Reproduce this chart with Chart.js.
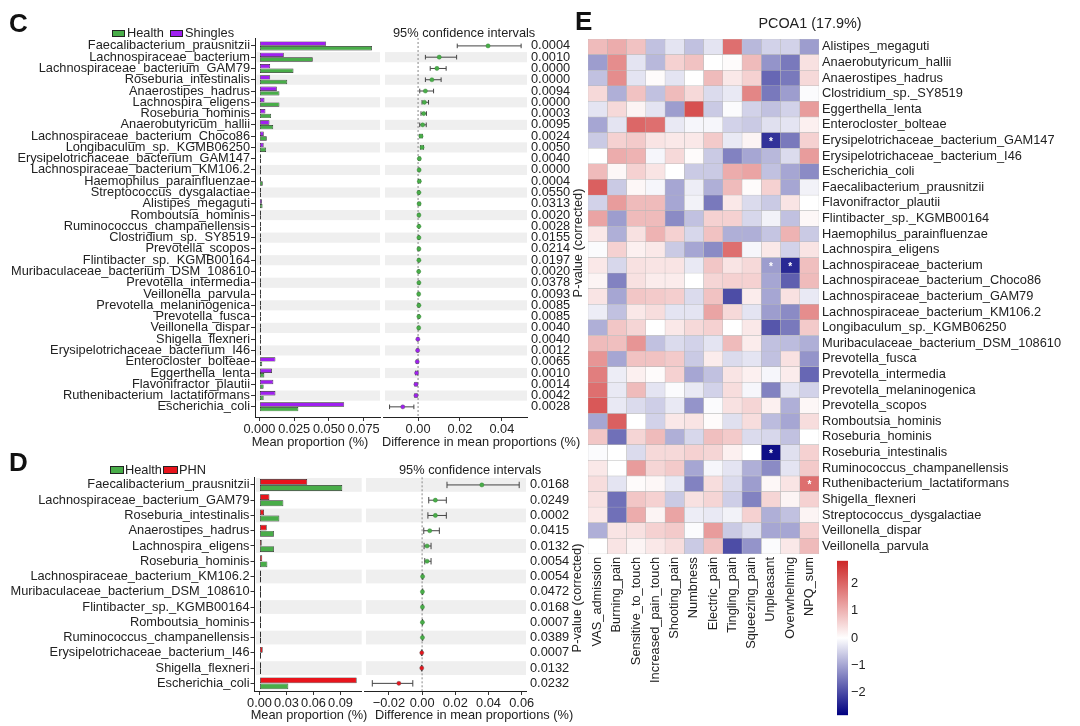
<!DOCTYPE html>
<html><head><meta charset="utf-8">
<script src="https://cdn.jsdelivr.net/npm/chart.js@4.4.0/dist/chart.umd.min.js"></script>
<style>
html,body{margin:0;padding:0;background:#fff;}
body{width:1080px;height:726px;position:relative;overflow:hidden;font-family:"Liberation Sans",Arial,sans-serif;color:#222;}
canvas{position:absolute;}
.t{position:absolute;white-space:nowrap;font-size:12.8px;line-height:12.8px;}
.c{transform:translate(-50%,-50%);}
.v{transform:translate(-50%,-50%) rotate(-90deg);}
.L{font-weight:bold;font-size:26px;line-height:26px;color:#111;}
.box{position:absolute;border:1px solid #222;box-sizing:border-box;}
</style></head><body>

<canvas id="cBar" width="382" height="460" style="left:0;top:0"></canvas>
<canvas id="cCI" width="199" height="460" style="left:381px;top:0"></canvas>
<canvas id="dBar" width="364" height="286" style="left:0;top:440px"></canvas>
<canvas id="dCI" width="218" height="286" style="left:362px;top:440px"></canvas>
<canvas id="heat" width="500" height="726" style="left:580px;top:0"></canvas>
<canvas id="cbar" width="60" height="176" style="left:830px;top:550px"></canvas>

<div class="t L" style="left:9px;top:10px">C</div>
<div class="box" style="left:112px;top:30px;width:13px;height:7px;background:#49ad49"></div>
<div class="t" style="left:127px;top:27px">Health</div>
<div class="box" style="left:170px;top:30px;width:13px;height:7px;background:#a020f0"></div>
<div class="t" style="left:185px;top:27px">Shingles</div>
<div class="t" style="left:393px;top:27px">95% confidence intervals</div>
<div class="t c" style="left:310px;top:442px">Mean proportion (%)</div>
<div class="t" style="left:382px;top:436px">Difference in mean proportions (%)</div>
<div class="t v" style="left:578px;top:243px">P-value (corrected)</div>

<div class="t L" style="left:9px;top:449px">D</div>
<div class="box" style="left:110px;top:466px;width:14px;height:8px;background:#49ad49"></div>
<div class="t" style="left:125px;top:464px">Health</div>
<div class="box" style="left:163px;top:466px;width:15px;height:8px;background:#e8141c"></div>
<div class="t" style="left:179px;top:464px">PHN</div>
<div class="t" style="left:399px;top:464px">95% confidence intervals</div>
<div class="t c" style="left:309px;top:715px">Mean proportion (%)</div>
<div class="t" style="left:375px;top:709px">Difference in mean proportions (%)</div>
<div class="t v" style="left:577px;top:598px">P-value (corrected)</div>

<div class="t L" style="left:575px;top:8px">E</div>
<div class="t c" style="left:810px;top:23px;font-size:14.4px;line-height:14.4px">PCOA1 (17.9%)</div>

<script>
// ---------- Panel C data ----------
const cSpecies = ["Faecalibacterium_prausnitzii","Lachnospiraceae_bacterium","Lachnospiraceae_bacterium_GAM79","Roseburia_intestinalis","Anaerostipes_hadrus","Lachnospira_eligens","Roseburia_hominis","Anaerobutyricum_hallii","Lachnospiraceae_bacterium_Choco86","Longibaculum_sp._KGMB06250","Erysipelotrichaceae_bacterium_GAM147","Lachnospiraceae_bacterium_KM106.2","Haemophilus_parainfluenzae","Streptococcus_dysgalactiae","Alistipes_megaguti","Romboutsia_hominis","Ruminococcus_champanellensis","Clostridium_sp._SY8519","Prevotella_scopos","Flintibacter_sp._KGMB00164","Muribaculaceae_bacterium_DSM_108610","Prevotella_intermedia","Veillonella_parvula","Prevotella_melaninogenica","Prevotella_fusca","Veillonella_dispar","Shigella_flexneri","Erysipelotrichaceae_bacterium_I46","Enterocloster_bolteae","Eggerthella_lenta","Flavonifractor_plautii","Ruthenibacterium_lactatiformans","Escherichia_coli"];
const cShingles = [0.048,0.0175,0.0077,0.0077,0.0125,0.0036,0.0043,0.0072,0.0031,0.0030,0.0003,0.0002,0.0008,0.0003,0.0018,0.0002,0.0002,0.0002,0.0002,0.0002,0.0002,0.0002,0.0007,0.0002,0.0002,0.0002,0.0004,0.0009,0.0115,0.0090,0.0100,0.0115,0.0610];
const cHealth = [0.081,0.0384,0.0245,0.0200,0.0144,0.0144,0.0084,0.0099,0.0053,0.0048,0.0008,0.0006,0.0024,0.0004,0.0022,0.0004,0.0004,0.0004,0.0008,0.0004,0.0005,0.0008,0.0002,0.0009,0.0008,0.0004,0.0002,0.0002,0.0020,0.0035,0.0030,0.0030,0.0280];
const cDiff = [0.0334,0.0101,0.0090,0.0066,0.0035,0.0030,0.0027,0.0022,0.0014,0.0019,0.0006,0.0005,0.0006,0.0004,0.0005,0.0004,0.0004,0.0004,0.0004,0.0004,0.0003,0.0004,0.0003,0.0004,0.0004,0.0003,-0.0001,-0.0002,-0.0004,-0.0007,-0.0010,-0.0010,-0.0073];
const cLow = [0.0187,0.0035,0.0058,0.0035,0.0008,0.0019,0.0014,0.0008,0.0008,0.0012,0.0003,0.0003,0.0002,0.0001,0.0001,0.0001,0.0002,0.0002,0.0001,0.0002,0.0001,0.0001,0.0001,0.0001,0.0001,0.0001,-0.0003,-0.0004,-0.0008,-0.0012,-0.0015,-0.0015,-0.0136];
const cHigh = [0.0492,0.0184,0.0134,0.0110,0.0074,0.0050,0.0040,0.0039,0.0020,0.0026,0.0009,0.0007,0.0010,0.0007,0.0009,0.0007,0.0006,0.0006,0.0007,0.0006,0.0005,0.0007,0.0005,0.0007,0.0007,0.0005,0.0001,0.0000,-0.0001,-0.0003,-0.0005,-0.0005,-0.0020];
const cPval = ["0.0004","0.0010","0.0000","0.0000","0.0094","0.0000","0.0003","0.0095","0.0024","0.0050","0.0040","0.0000","0.0004","0.0550","0.0313","0.0020","0.0028","0.0155","0.0214","0.0197","0.0020","0.0378","0.0093","0.0085","0.0085","0.0040","0.0040","0.0012","0.0065","0.0010","0.0014","0.0042","0.0028"];
const cBarTicks = [0, 0.025, 0.05, 0.075];
const cCITicks = [0, 0.02, 0.04];

// ---------- Panel D data ----------
const dSpecies = ["Faecalibacterium_prausnitzii","Lachnospiraceae_bacterium_GAM79","Roseburia_intestinalis","Anaerostipes_hadrus","Lachnospira_eligens","Roseburia_hominis","Lachnospiraceae_bacterium_KM106.2","Muribaculaceae_bacterium_DSM_108610","Flintibacter_sp._KGMB00164","Romboutsia_hominis","Ruminococcus_champanellensis","Erysipelotrichaceae_bacterium_I46","Shigella_flexneri","Escherichia_coli"];
const dPHN = [0.053,0.011,0.005,0.008,0.0024,0.003,0.0002,0.0002,0.0002,0.0002,0.0002,0.0035,0.0017,0.108];
const dHealth = [0.092,0.0265,0.022,0.016,0.016,0.0087,0.0008,0.0006,0.0007,0.0005,0.0006,0.0003,0.0002,0.032];
const dDiff = [0.036,0.008,0.008,0.0046,0.003,0.003,0.0003,0.0002,0.0002,0.0002,0.0002,-0.0002,-0.0002,-0.014];
const dLow = [0.015,0.004,0.0035,0.001,0.0012,0.0016,0.0001,0.0001,0.0001,0.0001,0.0001,-0.0004,-0.0004,-0.030];
const dHigh = [0.0585,0.0146,0.0146,0.0104,0.0054,0.0054,0.0005,0.0004,0.0004,0.0003,0.0004,0.0000,-0.0001,-0.0056];
const dPval = ["0.0168","0.0249","0.0002","0.0415","0.0132","0.0054","0.0054","0.0472","0.0168","0.0007","0.0389","0.0007","0.0132","0.0232"];
const dBarTicks = [0, 0.03, 0.06, 0.09];
const dCITicks = [-0.02, 0, 0.02, 0.04, 0.06];

// ---------- Panel E data ----------
const heatRows = ["Alistipes_megaguti","Anaerobutyricum_hallii","Anaerostipes_hadrus","Clostridium_sp._SY8519","Eggerthella_lenta","Enterocloster_bolteae","Erysipelotrichaceae_bacterium_GAM147","Erysipelotrichaceae_bacterium_I46","Escherichia_coli","Faecalibacterium_prausnitzii","Flavonifractor_plautii","Flintibacter_sp._KGMB00164","Haemophilus_parainfluenzae","Lachnospira_eligens","Lachnospiraceae_bacterium","Lachnospiraceae_bacterium_Choco86","Lachnospiraceae_bacterium_GAM79","Lachnospiraceae_bacterium_KM106.2","Longibaculum_sp._KGMB06250","Muribaculaceae_bacterium_DSM_108610","Prevotella_fusca","Prevotella_intermedia","Prevotella_melaninogenica","Prevotella_scopos","Romboutsia_hominis","Roseburia_hominis","Roseburia_intestinalis","Ruminococcus_champanellensis","Ruthenibacterium_lactatiformans","Shigella_flexneri","Streptococcus_dysgalactiae","Veillonella_dispar","Veillonella_parvula"];
const heatCols = ["VAS_admission","Burning_pain","Sensitive_to_touch","Increased_pain_touch","Shooting_pain","Numbness","Electric_pain","Tingling_pain","Squeezing_pain","Unpleasant","Overwhelming","NPQ_sum"];
const heatValues = [
[0.9,1.1,0.8,-0.7,-0.3,-0.7,-0.3,1.9,-0.8,-0.5,-0.5,-1.1],
[-1.1,1.5,-0.3,-0.8,0.6,0.8,0.0,0.05,0.9,-1.2,-1.5,0.4],
[-0.7,1.5,-0.3,0.05,-0.3,0.0,0.9,0.3,0.6,-1.7,-1.5,0.5],
[0.5,-0.9,0.8,-0.7,0.9,0.5,-0.4,-0.25,1.6,-1.5,-1.1,-0.05],
[-0.3,0.5,0.15,-0.3,-1.1,2.3,-0.6,-0.05,-0.5,-0.7,-0.5,1.3],
[-1.0,-0.3,2.0,1.9,-0.25,-0.1,-0.1,-0.5,-0.6,-0.35,-0.3,0.2],
[-0.6,0.6,0.7,0.35,0.3,0.3,0.7,-0.25,0.15,-2.3,-1.5,0.6],
[0.0,1.1,1.0,-0.1,0.5,0.05,-0.6,-1.4,-1.0,-0.8,-0.4,1.3],
[0.9,0.1,0.6,0.35,0.0,-0.6,-0.6,1.1,1.2,-0.7,-1.0,-1.3],
[2.1,-0.6,0.1,-0.1,-1.0,-0.2,-0.9,0.9,0.05,0.6,-1.0,-0.15],
[-0.5,1.3,0.9,0.9,-1.0,-0.15,-1.5,0.3,-0.4,-0.6,0.35,0.0],
[1.2,-1.1,0.9,0.9,-1.3,-0.7,0.6,0.6,-0.45,-0.15,-0.7,0.1],
[0.3,-0.9,0.4,1.0,0.6,-0.45,0.8,-0.9,-0.9,-0.65,1.0,-0.6],
[-0.05,0.6,0.2,0.3,-0.6,-1.0,-1.3,1.9,-0.1,0.3,-0.5,0.35],
[0.3,-0.45,0.4,0.35,0.35,-0.25,0.75,0.35,0.5,-1.1,-2.4,0.85],
[0.15,-1.4,0.4,0.25,0.25,0.0,0.55,0.6,0.6,-1.0,-1.8,0.9],
[0.35,-1.0,0.75,0.7,0.65,-0.4,0.8,-2.0,0.25,-1.0,0.4,-0.25],
[-0.2,-0.7,0.3,0.45,-0.3,-0.3,1.2,0.5,-0.3,-1.1,-1.3,1.5],
[-0.9,0.75,0.55,0.0,0.3,0.5,0.6,0.0,0.3,-1.9,-1.5,0.7],
[0.9,0.85,1.4,-0.7,-0.4,-0.5,-0.3,0.9,0.25,-0.7,-0.75,-0.9],
[1.4,-1.0,0.8,0.8,0.7,-0.6,0.25,-0.4,-0.3,-0.7,0.4,-1.2],
[1.7,-0.2,0.2,0.05,0.6,-1.0,-0.7,0.35,0.2,-0.1,0.25,-1.7],
[1.9,-0.25,0.9,-0.3,-0.05,-0.25,-0.5,0.45,-0.1,-1.4,-0.3,-0.5],
[2.2,-0.25,-0.4,-0.55,-0.25,-1.2,-0.05,0.4,0.55,0.2,-0.9,0.1],
[-1.0,2.1,0.0,-0.5,0.3,0.35,0.05,-0.35,0.45,-0.75,-1.0,0.45],
[0.75,-1.6,0.55,0.9,-0.9,-0.45,0.85,0.7,-0.4,-0.45,-0.7,0.0],
[-0.05,0.0,-0.4,0.5,0.5,0.6,0.55,0.2,0.0,-2.7,-0.35,0.6],
[0.3,0.0,1.3,0.55,0.7,-1.0,-0.1,-0.3,-0.9,-1.3,-0.3,0.7],
[0.45,-0.3,0.05,0.1,-0.25,-1.4,0.45,-0.4,-1.1,0.1,0.35,1.9],
[0.4,-1.6,0.75,0.6,-0.6,0.4,0.55,-0.55,-1.4,0.55,0.15,0.6],
[0.3,-1.6,1.1,0.15,1.2,-0.2,-0.25,-0.15,0.6,-0.9,-0.7,0.15],
[-0.9,0.35,0.4,0.6,0.7,-0.05,1.3,-0.6,-0.35,-1.0,-1.0,0.6],
[0.0,0.35,0.15,0.3,0.45,-0.6,0.8,-2.0,-1.2,-0.05,0.3,0.9]
];
const heatStars = [[6,9],[14,9],[14,10],[26,9],[28,11]];
const colorbarTicks = [-2,-1,0,1,2];
const cbMin = -2.86, cbMax = 2.86;

// ---------- styles ----------
const GREEN = '#49ad49', PURPLE = '#a020f0', RED = '#e8141c';
const FONT = '"Liberation Sans", Arial, sans-serif';
Chart.defaults.font.family = FONT;
Chart.defaults.font.size = 12.8;
Chart.defaults.color = '#222';
Chart.defaults.animation = false;

const minus = v => v < 0 ? '\u2212' + Math.abs(v) : String(v);
const fmt = d => v => (v < 0 ? '\u2212' : '') + Math.abs(v).toFixed(d);

function bandsPlugin(count, parity){
  return {id:'bands', beforeDatasetsDraw(chart){
    const {ctx, chartArea:a, scales:{y}} = chart;
    ctx.save(); ctx.fillStyle = '#efefef';
    for (let i = 0; i < count; i++){
      if (i % 2 !== parity) continue;
      const y0 = y.getPixelForValue(i - 0.45), y1 = y.getPixelForValue(i + 0.45);
      ctx.fillRect(a.left + 1.5, Math.min(y0,y1), a.right - a.left - 1.5, Math.abs(y1 - y0));
    }
    ctx.restore();
  }};
}
function errPlugin(low, high, cap){
  return {id:'err', beforeDatasetsDraw(chart){
    const {ctx, chartArea:a, scales:{x,y}} = chart;
    ctx.save();
    const x0 = x.getPixelForValue(0);
    ctx.strokeStyle = '#888'; ctx.lineWidth = 1; ctx.setLineDash([2,2]);
    ctx.beginPath(); ctx.moveTo(x0, a.top); ctx.lineTo(x0, a.bottom); ctx.stroke();
    ctx.setLineDash([]); ctx.strokeStyle = '#444'; ctx.lineWidth = 1;
    low.forEach((lo, i) => {
      const yy = y.getPixelForValue(i), xl = x.getPixelForValue(lo), xh = x.getPixelForValue(high[i]);
      ctx.beginPath();
      ctx.moveTo(xl, yy); ctx.lineTo(xh, yy);
      ctx.moveTo(xl, yy - cap); ctx.lineTo(xl, yy + cap);
      ctx.moveTo(xh, yy - cap); ctx.lineTo(xh, yy + cap);
      ctx.stroke();
    });
    ctx.restore();
  }};
}

function barChart(id, names, topVals, botVals, topColor, topLabel, botLabel, cfg){
  const n = names.length;
  return new Chart(document.getElementById(id), {
    type:'bar',
    data:{datasets:[
      {label:topLabel, data:names.map((_, i) => ({x:topVals[i], y:i})), backgroundColor:topColor, borderColor:'#222', borderWidth:0.7, borderSkipped:false, minBarLength:1.5, categoryPercentage:cfg.cat, barPercentage:0.95},
      {label:botLabel, data:names.map((_, i) => ({x:botVals[i], y:i})), backgroundColor:GREEN, borderColor:'#222', borderWidth:0.7, borderSkipped:false, minBarLength:1.5, categoryPercentage:cfg.cat, barPercentage:0.95}
    ]},
    options:{
      indexAxis:'y', responsive:false, devicePixelRatio:1, animation:false,
      layout:{padding:{top:cfg.top, right:cfg.right, left:0, bottom:0}},
      plugins:{legend:{display:false}, tooltip:{enabled:false}},
      scales:{
        y:{type:'linear', reverse:true, offset:false, min:cfg.ymin, max:cfg.ymax,
           afterBuildTicks:s => { s.ticks = names.map((_, i) => ({value:i})); },
           afterFit:s => { s.width = cfg.yw; },
           ticks:{autoSkip:false, padding:1, callback:v => names[v], color:'#222'},
           grid:{display:true, offset:false, drawOnChartArea:false, tickLength:4, color:'#333'},
           border:{display:true, color:'#222', width:1}},
        x:{type:'linear', min:cfg.xmin, max:cfg.xmax,
           afterBuildTicks:s => { s.ticks = cfg.xticks.map(v => ({value:v})); },
           afterFit:s => { s.height = cfg.xh; },
           ticks:{padding:1, autoSkip:false, maxRotation:0, minRotation:0, callback:fmt(cfg.dec), color:'#222'},
           grid:{drawOnChartArea:false, tickLength:4, color:'#333'},
           border:{color:'#222', width:1}}
      }
    },
    plugins:[bandsPlugin(n, cfg.parity)]
  });
}

function ciChart(id, names, diff, low, high, pvals, negColor, cfg){
  const n = names.length;
  return new Chart(document.getElementById(id), {
    type:'scatter',
    data:{datasets:[{data:diff.map((d, i) => ({x:d, y:i})), pointRadius:2.1, pointHoverRadius:2.1,
      pointBackgroundColor:diff.map(d => d > 0 ? GREEN : negColor),
      pointBorderColor:diff.map(d => d > 0 ? '#2f7f2f' : '#555'), pointBorderWidth:0.4}]},
    options:{
      responsive:false, devicePixelRatio:1, animation:false,
      layout:{padding:{top:cfg.top, left:2, right:0, bottom:0}},
      plugins:{legend:{display:false}, tooltip:{enabled:false}},
      scales:{
        y:{type:'linear', reverse:true, offset:false, min:cfg.ymin, max:cfg.ymax, display:false},
        y2:{type:'linear', position:'right', display:true, offset:false, reverse:true, min:cfg.ymin, max:cfg.ymax,
            afterBuildTicks:s => { s.ticks = pvals.map((_, i) => ({value:i})); },
            afterFit:s => { s.width = cfg.pw; },
            ticks:{autoSkip:false, padding:4, callback:v => pvals[v], color:'#222'},
            grid:{display:false, drawTicks:false}, border:{display:false}},
        x:{type:'linear', offset:false, min:cfg.xmin, max:cfg.xmax,
           afterBuildTicks:s => { s.ticks = cfg.xticks.map(v => ({value:v})); },
           afterFit:s => { s.height = cfg.xh; },
           ticks:{padding:1, autoSkip:false, maxRotation:0, minRotation:0, callback:fmt(2), color:'#222'},
           grid:{drawOnChartArea:false, tickLength:4, color:'#333'},
           border:{color:'#222', width:1}}
      }
    },
    plugins:[bandsPlugin(n, cfg.parity), errPlugin(low, high, cfg.cap)]
  });
}

// Panel C
barChart('cBar', cSpecies, cShingles, cHealth, PURPLE, 'Shingles', 'Health',
  {top:38, right:2, yw:255, xh:43, ymin:-0.7, ymax:32.9, xmin:-0.0032, xmax:0.0868, xticks:cBarTicks, dec:3, parity:1, cat:0.82});
ciChart('cCI', cSpecies, cDiff, cLow, cHigh, cPval, PURPLE,
  {top:38, pw:53, xh:43, ymin:-0.7, ymax:32.9, xmin:-0.0165, xmax:0.052, xticks:cCITicks, parity:1, cap:2.3});

// Panel D
barChart('dBar', dSpecies, dPHN, dHealth, RED, 'PHN', 'Health',
  {top:37.3, right:2.3, yw:254.5, xh:35, ymin:-0.5, ymax:13.5, xmin:-0.0056, xmax:0.1136, xticks:dBarTicks, dec:2, parity:0, cat:0.8});
ciChart('dCI', dSpecies, dDiff, dLow, dHigh, dPval, RED,
  {top:37.3, pw:54, xh:35, ymin:-0.5, ymax:13.5, xmin:-0.0347, xmax:0.0626, xticks:dCITicks, parity:0, cap:3.2});

// Panel E heatmap
function heatColor(v){
  const t = Math.max(-1, Math.min(1, v / cbMax));
  let r, g, b;
  if (t < 0){ const s = -t; r = 255 * (1 - s); g = 255 * (1 - s); b = 255 - 127 * s; }
  else { r = 255 - 50 * t; g = 255 - 217 * t; b = g; }
  return 'rgb(' + Math.round(r) + ',' + Math.round(g) + ',' + Math.round(b) + ')';
}
const heatDatasets = heatCols.map((col, j) => ({
  label:col, data:heatRows.map(() => 1),
  backgroundColor:heatRows.map((_, i) => heatColor(heatValues[i][j])),
  borderColor:'#b8b8b8', borderWidth:0.5, borderSkipped:false,
  barPercentage:1, categoryPercentage:1, xAxisID:'x', yAxisID:'y'
}));
const starPlugin = {id:'stars', afterDatasetsDraw(chart){
  const {ctx, scales:{x, y}} = chart;
  ctx.save(); ctx.fillStyle = '#fff'; ctx.font = 'bold 10px ' + FONT; ctx.textAlign = 'center'; ctx.textBaseline = 'middle';
  heatStars.forEach(([r, c]) => ctx.fillText('*', x.getPixelForValue(c + 0.5), y.getPixelForValue(r) + 1.5));
  ctx.restore();
}};
new Chart(document.getElementById('heat'), {
  type:'bar',
  data:{labels:heatRows, datasets:heatDatasets},
  options:{
    indexAxis:'y', responsive:false, devicePixelRatio:1, animation:false,
    layout:{padding:{left:8, top:39, right:0, bottom:0}},
    plugins:{legend:{display:false}, tooltip:{enabled:false}},
    scales:{
      x:{type:'linear', stacked:true, min:0, max:heatCols.length, display:false},
      xc:{type:'category', labels:heatCols, position:'bottom', display:true, offset:true,
          grid:{display:false, drawTicks:false}, border:{display:false},
          ticks:{minRotation:90, maxRotation:90, autoSkip:false, padding:3, color:'#222'},
          afterFit:s => { s.height = 172; }},
      y:{type:'category', position:'right', stacked:true,
         grid:{display:false, drawTicks:false}, border:{display:false},
         ticks:{autoSkip:false, padding:3, color:'#222'},
         afterFit:s => { s.width = 261; }}
    }
  },
  plugins:[starPlugin]
});

// Colour bar
new Chart(document.getElementById('cbar'), {
  type:'bar',
  data:{labels:['scale'], datasets:[{data:[[cbMin, cbMax]], borderWidth:0, barPercentage:1, categoryPercentage:1,
    backgroundColor:ctx => {
      const ch = ctx.chart, a = ch.chartArea;
      if (!a) return '#fff';
      const g = ch.ctx.createLinearGradient(0, a.bottom, 0, a.top);
      g.addColorStop(0, heatColor(cbMin)); g.addColorStop(0.5, heatColor(0)); g.addColorStop(1, heatColor(cbMax));
      return g;
    }}]},
  options:{
    responsive:false, devicePixelRatio:1, animation:false,
    layout:{padding:{left:7, top:10, bottom:9, right:0}},
    plugins:{legend:{display:false}, tooltip:{enabled:false}},
    scales:{
      x:{display:false},
      y:{position:'right', min:cbMin, max:cbMax,
         afterBuildTicks:s => { s.ticks = colorbarTicks.map(v => ({value:v})); },
         afterFit:s => { s.width = 42; },
         ticks:{padding:3, callback:minus, color:'#222'},
         grid:{display:false, drawTicks:false}, border:{display:false}}
    }
  }
});
</script>
</body></html>
